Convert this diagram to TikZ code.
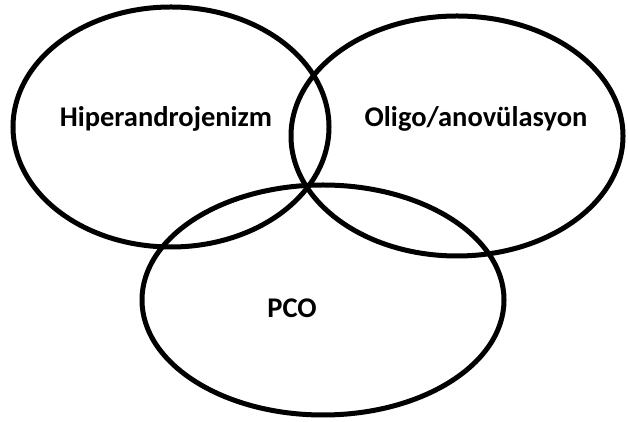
\documentclass[tikz,border=0pt]{standalone}
\usepackage{fontspec}
\setmainfont{Carlito}
\usepackage{tikz}

\begin{document}
\begin{tikzpicture}[x=1pt,y=1pt,font=\fontsize{28.5}{34}\selectfont\bfseries]
    \tikzset{
        ring/.style={draw=black,line width=5pt},
        setlabel/.style={anchor=base,inner sep=0pt}
    }

    \useasboundingbox (0,0) rectangle (628,422);

    \draw[ring] (171,295) ellipse [x radius=158,y radius=120];
    \draw[ring] (457,286) ellipse [x radius=166,y radius=120];
    \draw[ring] (323,122) ellipse [x radius=181,y radius=115];

    \node[setlabel] (hiper) at (166,295) {Hiperandrojenizm};
    \node[setlabel] (oligo) at (476,295) {Oligo/anovülasyon};
    \node[setlabel] (pco) at (292,104) {PCO};
\end{tikzpicture}
\end{document}
